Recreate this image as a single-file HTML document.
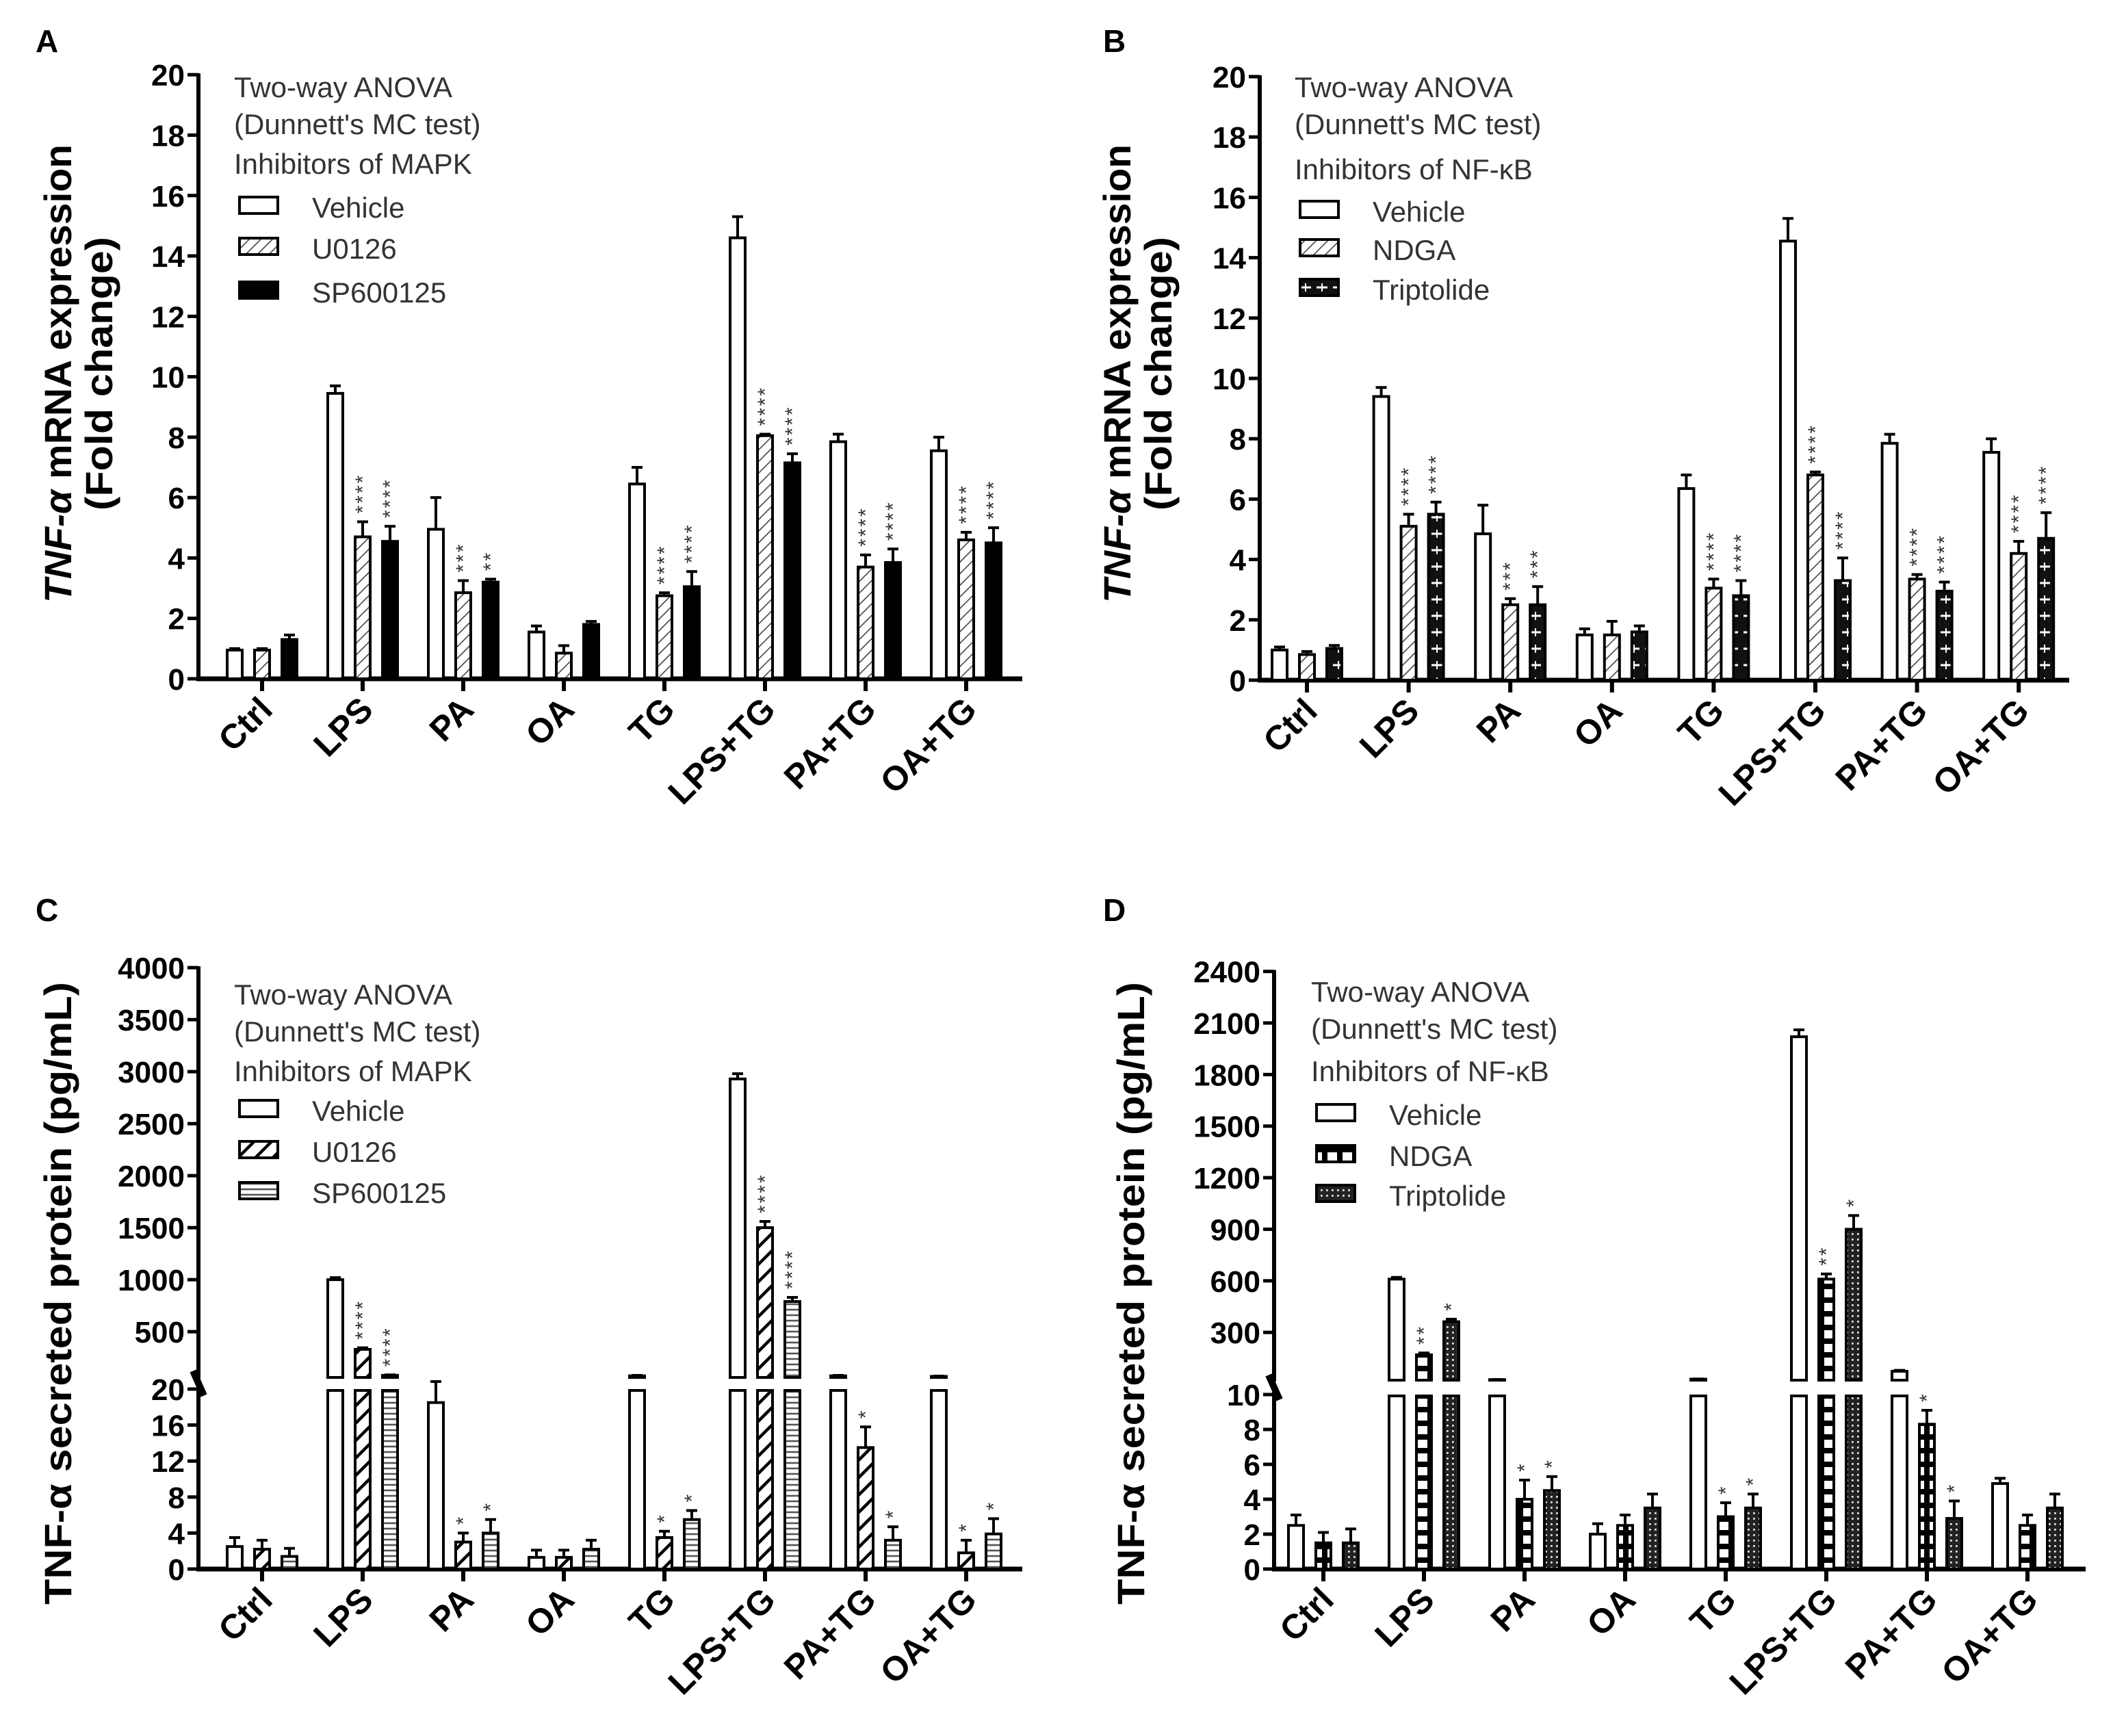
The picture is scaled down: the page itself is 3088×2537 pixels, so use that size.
<!DOCTYPE html>
<html><head><meta charset="utf-8"><style>
html,body{margin:0;padding:0;background:#fff}
svg{display:block}
text{font-family:"Liberation Sans",Arial,sans-serif}
.tick{font-weight:bold;font-size:22px}
.cat{font-weight:bold;font-size:25px}
.ttl{font-weight:bold;font-size:28px}
.leg{font-size:21px;fill:#333}
.lab{font-weight:bold;font-size:23px}
.star{font-size:15px;fill:#333}
</style></head><body>
<svg id="fig" width="3088" height="2537" viewBox="0 0 1544 1268.5" xmlns="http://www.w3.org/2000/svg">
<defs>
<pattern id="hatchLight" patternUnits="userSpaceOnUse" width="6" height="6" patternTransform="rotate(45)"><rect width="6" height="6" fill="#fff"/><line x1="0" y1="0" x2="0" y2="6" stroke="#444" stroke-width="1.6"/></pattern>
<pattern id="hatchBold" patternUnits="userSpaceOnUse" width="9" height="9" patternTransform="rotate(45)"><rect width="9" height="9" fill="#fff"/><line x1="0" y1="0" x2="0" y2="9" stroke="#000" stroke-width="4.5"/></pattern>
<pattern id="hlines" patternUnits="userSpaceOnUse" width="6" height="4"><rect width="6" height="4" fill="#fff"/><line x1="0" y1="1" x2="6" y2="1" stroke="#555" stroke-width="1.3"/></pattern>
<pattern id="blackH" patternUnits="userSpaceOnUse" width="12" height="12"><rect width="12" height="12" fill="#111"/><line x1="2" y1="6" x2="10" y2="6" stroke="#fff" stroke-width="1.5"/><line x1="6" y1="3" x2="6" y2="9" stroke="#fff" stroke-width="1"/></pattern>
<pattern id="squares" patternUnits="userSpaceOnUse" width="11" height="10"><rect width="11" height="10" fill="#000"/><rect x="2" y="2" width="7" height="6" fill="#fff"/></pattern>
<pattern id="dots" patternUnits="userSpaceOnUse" width="4" height="4"><rect width="4" height="4" fill="#222"/><rect x="1" y="1" width="1.4" height="1.4" fill="#ddd"/></pattern>
</defs>
</svg>
<script>
const categories = ["Ctrl","LPS","PA","OA","TG","LPS+TG","PA+TG","OA+TG"];
// Panel A
const aVehicle = [0.95,9.45,4.95,1.55,6.45,14.6,7.85,7.55];
const aVehicleErr = [0.05,0.25,1.05,0.2,0.55,0.7,0.25,0.45];
const aU0126 = [0.95,4.7,2.85,0.85,2.75,8.05,3.7,4.6];
const aU0126Err = [0.05,0.5,0.4,0.25,0.1,0.05,0.4,0.25];
const aSP = [1.3,4.55,3.2,1.8,3.05,7.15,3.85,4.5];
const aSPErr = [0.15,0.5,0.1,0.1,0.5,0.3,0.45,0.5];
const aStars2 = ["","****","***","","****","****","****","****"];
const aStars3 = ["","****","**","","****","****","****","****"];
const aTicks = [0,2,4,6,8,10,12,14,16,18,20];
// Panel B
const bVehicle = [1.0,9.4,4.85,1.5,6.35,14.55,7.85,7.55];
const bVehicleErr = [0.1,0.3,0.95,0.2,0.45,0.75,0.3,0.45];
const bNDGA = [0.85,5.1,2.5,1.5,3.05,6.8,3.35,4.2];
const bNDGAErr = [0.1,0.4,0.2,0.45,0.3,0.1,0.15,0.4];
const bTrip = [1.05,5.5,2.5,1.6,2.8,3.3,2.95,4.7];
const bTripErr = [0.1,0.4,0.6,0.2,0.5,0.75,0.3,0.85];
const bStars2 = ["","****","***","","****","****","****","****"];
const bStars3 = ["","****","***","","****","****","****","****"];
// Panel C
const cVehicle = [2.5,1000,18.5,1.3,75,2930,75,70];
const cVehicleErr = [1,20,2,0.8,5,50,5,3];
const cU0126 = [2.2,330,3,1.3,3.5,1500,13.5,1.8];
const cU0126Err = [1,15,1,0.8,0.7,60,2.3,1.4];
const cSP = [1.4,80,4,2.2,5.5,790,3.2,3.9];
const cSPErr = [0.9,5,1.5,1,1,40,1.5,1.7];
const cStars2 = ["","****","*","","*","****","*","*"];
const cStars3 = ["","****","*","","*","****","*","*"];
const cLowTicks = [0,4,8,12,16,20];
const cUpTicks = [500,1000,1500,2000,2500,3000,3500,4000];
// Panel D
const dVehicle = [2.5,610,25,2,28,2020,74,4.9];
const dVehicleErr = [0.6,10,1,0.6,1,40,5,0.3];
const dNDGA = [1.5,170,4,2.5,3,610,8.3,2.5];
const dNDGAErr = [0.6,10,1.1,0.6,0.8,30,0.8,0.6];
const dTrip = [1.5,362,4.5,3.5,3.5,900,2.9,3.5];
const dTripErr = [0.8,15,0.8,0.8,0.8,80,1,0.8];
const dStars2 = ["","**","*","","*","**","*",""];
const dStars3 = ["","*","*","","*","*","*",""];
const dLowTicks = [0,2,4,6,8,10];
const dUpTicks = [300,600,900,1200,1500,1800,2100,2400];

const NS="http://www.w3.org/2000/svg";
const svg=document.getElementById('fig');
function mk(tag,attrs,parent,txt){const e=document.createElementNS(NS,tag);for(const k in attrs)e.setAttribute(k,attrs[k]);if(txt!==undefined)e.textContent=txt;(parent||svg).appendChild(e);return e;}

function panel(p){
  const g=mk('g',{});
  
  
  const yOf=v=>{
    if(!p.broken) return p.y0-v*p.k;
    if(v<=p.lowMax) return p.y0-v*p.lowK;
    return p.upY-(v-p.upMin)*p.upK;
  };
  const lowTop=p.broken? p.y0-p.lowMax*p.lowK : 0;
  if(!p.broken){
    const ax=mk('line',{x1:p.ax,y1:p.y0+1.5,x2:p.ax,y2:yOf(p.ticks[p.ticks.length-1])-1,stroke:'#000','stroke-width':3},g);
    
    p.ticks.forEach(t=>{const y=yOf(t);mk('line',{x1:p.ax-8,y1:y,x2:p.ax,y2:y,stroke:'#000','stroke-width':2.5},g);
      const tl=mk('text',{x:p.ax-10,y:y+8,'text-anchor':'end',class:'tick'},g,String(t));});
  } else {
    mk('line',{x1:p.ax,y1:p.y0+1.5,x2:p.ax,y2:lowTop-2,stroke:'#000','stroke-width':3},g);
    mk('line',{x1:p.ax,y1:p.upY+1,x2:p.ax,y2:yOf(p.upTicks[p.upTicks.length-1])-1,stroke:'#000','stroke-width':3},g);
    const br=mk('line',{x1:p.ax-4,y1:(lowTop+p.upY)/2-9,x2:p.ax+4,y2:(lowTop+p.upY)/2+9,stroke:'#000','stroke-width':5},g);
    
    p.lowTicks.concat(p.upTicks).forEach(t=>{const y=yOf(t);mk('line',{x1:p.ax-8,y1:y,x2:p.ax,y2:y,stroke:'#000','stroke-width':2.5},g);
      const tl=mk('text',{x:p.ax-10,y:y+8,'text-anchor':'end',class:'tick'},g,String(t));});
  }
  const xa=mk('line',{x1:p.ax-1.5,y1:p.y0,x2:p.axEnd,y2:p.y0,stroke:'#000','stroke-width':3.5},g);
  
  const fills=['#fff',p.f2,p.f3];
  categories.forEach((c,i)=>{
    const cx=p.c0+i*p.sp;
    mk('line',{x1:cx,y1:p.y0,x2:cx,y2:p.y0+9,stroke:'#000','stroke-width':3},g);
    const t=mk('text',{x:cx+9,y:p.y0+24,'text-anchor':'end',class:'cat',transform:`rotate(-45 ${cx+9} ${p.y0+24})`},g,c);
    
    p.series.forEach((s,j)=>{
      const v=s.vals[i],e=s.err[i],bx=cx+(j-1)*20-5.5,w=11;
      const drawRect=(y1,y2)=>{const r=mk('rect',{x:bx,y:y1,width:w,height:Math.max(0,y2-y1),fill:fills[j],stroke:'#000','stroke-width':2},g);
        };
      if(p.broken && v>p.lowMax){drawRect(lowTop+1,p.y0);drawRect(yOf(v),p.upY);}
      else drawRect(yOf(v),p.y0);
      const yt=yOf(v+e);
      const eb=mk('path',{d:`M${bx+w/2} ${yOf(v)} V${yt} M${bx+w/2-4} ${yt} H${bx+w/2+4}`,stroke:'#000','stroke-width':2,fill:'none'},g);
      
      if(s.stars && s.stars[i]){
        const sx=bx+w/2+5, sy=yt-6;
        const st=mk('text',{x:sx,y:sy,class:'star','letter-spacing':'1.5',transform:`rotate(-90 ${sx} ${sy})`},g,s.stars[i]);
        
      }
    });
  });
  p.title.forEach(tt=>{const t=mk('text',{x:tt.x,y:tt.y,'text-anchor':'middle',class:'ttl',textLength:tt.len,lengthAdjust:'spacingAndGlyphs',transform:`rotate(-90 ${tt.x} ${tt.y})`},g);
    
    tt.parts.forEach(pp=>{mk('tspan',pp.it?{'font-style':'italic'}:{},t,pp.t);});});
  const lt=mk('text',{x:p.lx,y:p.ly,class:'lab'},g,p.id);
  
  p.legText.forEach((s,i)=>{const t=mk('text',{x:p.legX,y:p.legY[i],class:'leg'},g,s);});
  p.series.forEach((s,j)=>{
    const y=p.swY[j];
    const r=mk('rect',{x:p.legX+4,y:y-7,width:28,height:12,fill:fills[j],stroke:'#000','stroke-width':2},g);
    
    const t=mk('text',{x:p.legX+57,y:y+8,class:'leg'},g,s.label);
    
  });
}
const tA=[{x:52,y:273,len:335,parts:[{t:'TNF-α',it:true},{t:' mRNA expression'}]},{x:82,y:273,len:200,parts:[{t:'(Fold change)'}]}];
panel({id:'A',ax:145,y0:496,k:(496-54.6)/20,ticks:aTicks,axEnd:747,c0:191.5,sp:73.5,f2:'url(#hatchLight)',f3:'#000',
  series:[{name:'vehicle',label:'Vehicle',vals:aVehicle,err:aVehicleErr},{name:'u0126',label:'U0126',vals:aU0126,err:aU0126Err,stars:aStars2},{name:'sp600125',label:'SP600125',vals:aSP,err:aSPErr,stars:aStars3}],
  title:tA,lx:26,ly:38,legX:171,legText:["Two-way ANOVA","(Dunnett's MC test)","Inhibitors of MAPK"],legY:[71,98,127],swY:[151,181,213]});
const tB=[{x:826,y:273,len:335,parts:[{t:'TNF-α',it:true},{t:' mRNA expression'}]},{x:856,y:273,len:200,parts:[{t:'(Fold change)'}]}];
panel({id:'B',ax:920.5,y0:497,k:(497-56)/20,ticks:aTicks,axEnd:1512,c0:955,sp:74.3,f2:'url(#hatchLight)',f3:'url(#blackH)',
  series:[{name:'vehicle',label:'Vehicle',vals:bVehicle,err:bVehicleErr},{name:'ndga',label:'NDGA',vals:bNDGA,err:bNDGAErr,stars:bStars2},{name:'triptolide',label:'Triptolide',vals:bTrip,err:bTripErr,stars:bStars3}],
  title:tB,lx:806,ly:38,legX:946,legText:["Two-way ANOVA","(Dunnett's MC test)","Inhibitors of NF-κB"],legY:[71,98,131],swY:[154,182,211]});
panel({id:'C',ax:145,y0:1146.5,broken:true,lowMax:20,lowK:6.575,upMin:60,upY:1006.5,upK:0.076,lowTicks:cLowTicks,upTicks:cUpTicks,axEnd:747,c0:191.5,sp:73.5,f2:'url(#hatchBold)',f3:'url(#hlines)',
  series:[{name:'vehicle',label:'Vehicle',vals:cVehicle,err:cVehicleErr},{name:'u0126',label:'U0126',vals:cU0126,err:cU0126Err,stars:cStars2},{name:'sp600125',label:'SP600125',vals:cSP,err:cSPErr,stars:cStars3}],
  title:[{x:52,y:945,len:455,parts:[{t:'TNF-α secreted protein (pg/mL)'}]}],lx:26,ly:673,legX:171,legText:["Two-way ANOVA","(Dunnett's MC test)","Inhibitors of MAPK"],legY:[734,761,790],swY:[811,841,871]});
panel({id:'D',ax:931,y0:1146.5,broken:true,lowMax:10,lowK:12.75,upMin:22,upY:1008.5,upK:0.1256,lowTicks:dLowTicks,upTicks:dUpTicks,axEnd:1524,c0:967,sp:73.5,f2:'url(#squares)',f3:'url(#dots)',
  series:[{name:'vehicle',label:'Vehicle',vals:dVehicle,err:dVehicleErr},{name:'ndga',label:'NDGA',vals:dNDGA,err:dNDGAErr,stars:dStars2},{name:'triptolide',label:'Triptolide',vals:dTrip,err:dTripErr,stars:dStars3}],
  title:[{x:836,y:945,len:455,parts:[{t:'TNF-α secreted protein (pg/mL)'}]}],lx:806,ly:673,legX:958,legText:["Two-way ANOVA","(Dunnett's MC test)","Inhibitors of NF-κB"],legY:[732,759,790],swY:[814,844,873]});
</script>
</body></html>
